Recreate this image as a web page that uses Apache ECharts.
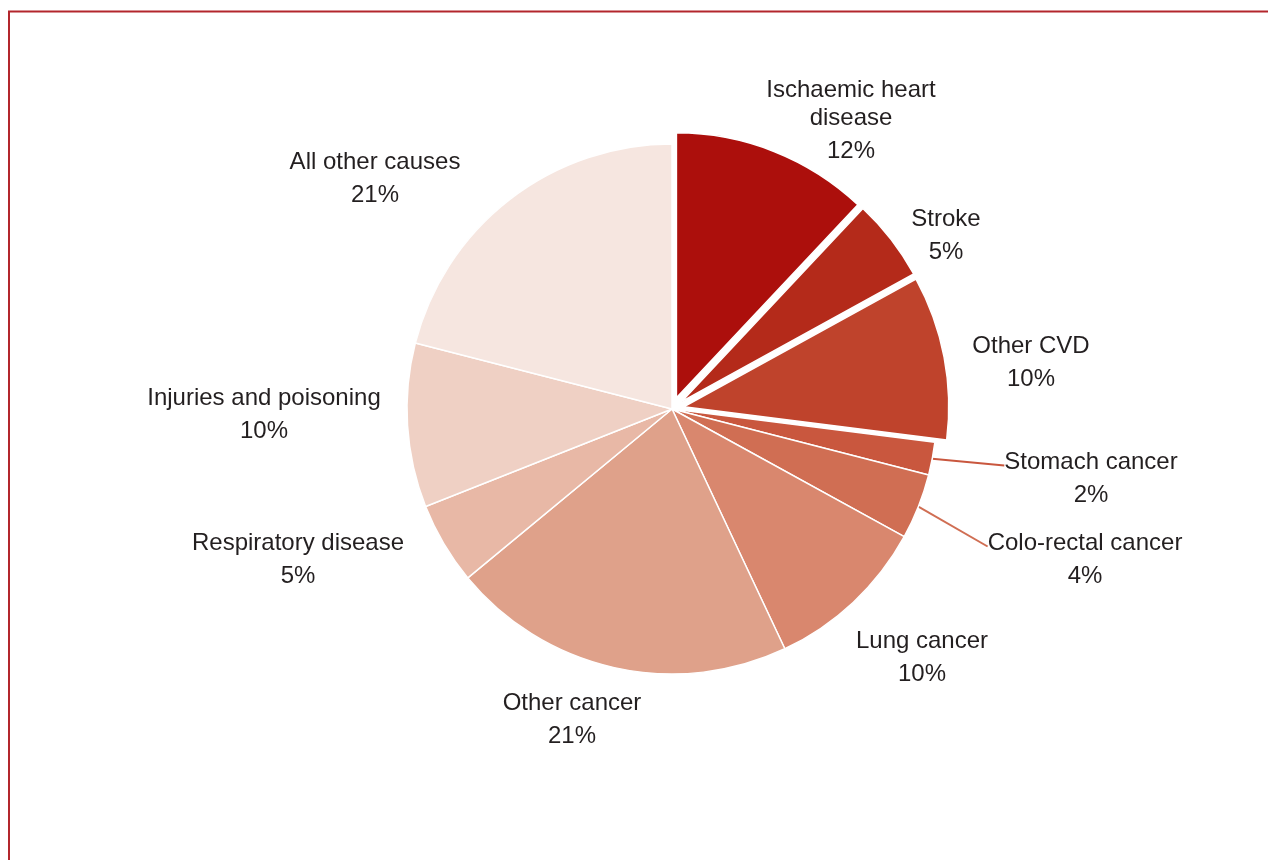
<!DOCTYPE html>
<html>
<head>
<meta charset="utf-8">
<style>
html,body{margin:0;padding:0;background:#fff;}
#chart{width:1268px;height:860px;}
</style>
<script src="https://cdn.jsdelivr.net/npm/echarts@6/dist/echarts.min.js"></script>
</head>
<body>
<div id="chart"></div>
<script>
// ---- data ----
const categories = [
  'Ischaemic heart disease', 'Stroke', 'Other CVD', 'Stomach cancer', 'Colo-rectal cancer',
  'Lung cancer', 'Other cancer', 'Respiratory disease', 'Injuries and poisoning', 'All other causes'
];
const shares = [12, 5, 10, 2, 4, 10, 21, 5, 10, 21];
const sliceColors = [
  '#ac0f0c', '#b42a1a', '#bf432c', '#c9573e', '#d06e53',
  '#d9876e', '#dfa18a', '#e8b8a6', '#efd0c4', '#f6e6e0'
];
const explodedSlices = ['Ischaemic heart disease', 'Stroke', 'Other CVD'];
const leaderSlices = ['Stomach cancer', 'Colo-rectal cancer'];

// ---- layout ----
const CX = 672, CY = 409, R = 265, EXPLODE = 12;
// label block: centre x, top y of first text line
const labelSpots = [
  [851, 76], [946, 205], [1031, 332], [1091, 448], [1085, 529],
  [922, 627], [572, 689], [298, 529], [264, 384], [375, 148]
];
const SPACER = 38;
const FONT = '"Liberation Sans", Arial, Helvetica, sans-serif';
const TEXT = '#231f20';

function wrapName(n) {
  return n === 'Ischaemic heart disease' ? 'Ischaemic heart\ndisease' : n;
}

const total = shares.reduce((a, b) => a + b, 0);
function midAngle(i) {
  let cum = 0;
  for (let k = 0; k < i; k++) cum += shares[k];
  return 2 * Math.PI * (cum + shares[i] / 2) / total;
}

const hidden = {color: 'rgba(0,0,0,0)', borderWidth: 0};

// main series: all labels, non-exploded slices drawn
const mainData = categories.map((name, i) => {
  const exploded = explodedSlices.indexOf(name) >= 0;
  const item = {
    name: name,
    value: shares[i],
    itemStyle: exploded ? hidden : {color: sliceColors[i]}
  };
  if (leaderSlices.indexOf(name) >= 0) {
    item.labelLine = {show: true, length: 10, length2: 0, smooth: false,
      lineStyle: {color: sliceColors[i], width: 2}};
  }
  return item;
});

const series = [{
  type: 'pie',
  z: 2,
  center: [CX, CY],
  radius: R,
  startAngle: 90,
  clockwise: true,
  avoidLabelOverlap: false,
  itemStyle: {borderColor: '#ffffff', borderWidth: 1.5},
  emphasis: {disabled: true, scale: false},
  label: {
    show: true,
    position: 'outside',
    fontFamily: FONT,
    color: TEXT,
    formatter: function (p) {
      const lead = leaderSlices.indexOf(p.name) >= 0 ? '{s| }\n' : '';
      return lead + '{n|' + wrapName(p.name) + '}\n{p|' + p.value + '%}';
    },
    rich: {
      s: {fontSize: 10, lineHeight: SPACER, fontFamily: FONT},
      n: {fontSize: 24, lineHeight: 28, color: TEXT, align: 'center', fontFamily: FONT},
      p: {fontSize: 24, lineHeight: 38, color: TEXT, align: 'center', fontFamily: FONT}
    }
  },
  labelLine: {show: false},
  labelLayout: function (params) {
    const spot = labelSpots[params.dataIndex];
    const name = categories[params.dataIndex];
    const pad = leaderSlices.indexOf(name) >= 0 ? SPACER : 0;
    return {x: spot[0], y: spot[1] - pad, align: 'center', verticalAlign: 'top'};
  },
  data: mainData
}];

// one overlay per exploded slice, shifted outward along its mid angle
explodedSlices.forEach((target) => {
  const idx = categories.indexOf(target);
  const a = midAngle(idx);
  series.push({
    type: 'pie',
    z: 3,
    silent: true,
    center: [CX + EXPLODE * Math.sin(a), CY - EXPLODE * Math.cos(a)],
    radius: R,
    startAngle: 90,
    clockwise: true,
    label: {show: false},
    labelLine: {show: false},
    emphasis: {disabled: true, scale: false},
    data: categories.map((name, i) => ({
      name: name,
      value: shares[i],
      itemStyle: i === idx ? {color: sliceColors[i], borderColor: '#ffffff', borderWidth: 1.5} : hidden
    }))
  });
});

const chart = echarts.init(document.getElementById('chart'), null, {renderer: 'canvas'});
chart.setOption({
  animation: false,
  backgroundColor: '#ffffff',
  graphic: [{
    type: 'rect', silent: true, z: 10,
    shape: {x: 9, y: 11.5, width: 1400, height: 1000},
    style: {fill: 'none', stroke: '#b3262c', lineWidth: 2}
  }],
  series: series
});
</script>
</body>
</html>
